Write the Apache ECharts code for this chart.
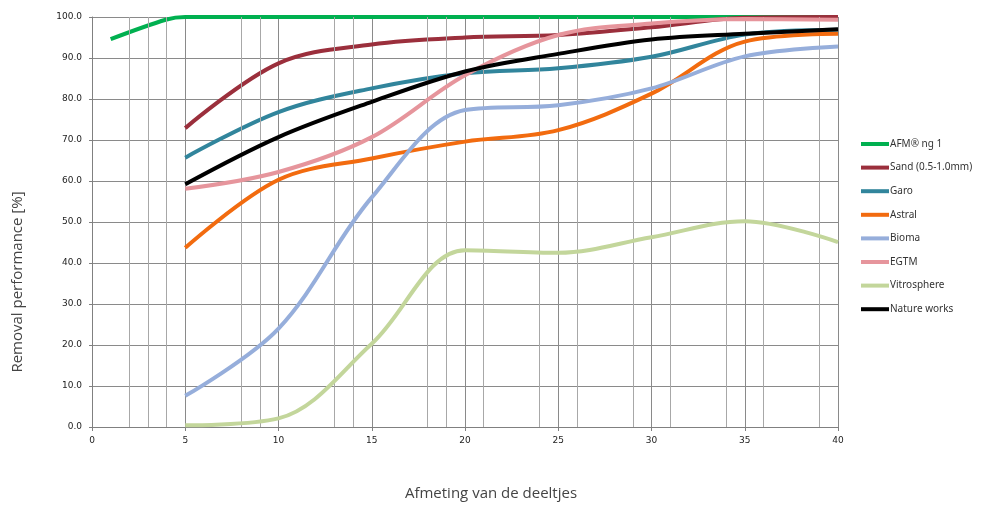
<!DOCTYPE html>
<html>
<head>
<meta charset="utf-8">
<script src="https://cdn.jsdelivr.net/npm/echarts@6/dist/echarts.min.js"></script>
<style>
html,body{margin:0;padding:0;background:#fff;}
#chart{width:984px;height:505px;}
</style>
</head>
<body>
<div id="chart"></div>
<script>
// ---- data ----
var seriesNames = ["AFM\u00ae ng 1", "Sand (0.5-1.0mm)", "Garo", "Astral", "Bioma", "EGTM", "Vitrosphere", "Nature works"];
var afmX = [1, 4, 5, 10, 15, 20, 25, 30, 35, 40];
var afmY = [94.6, 99.4, 100, 100, 100, 100, 100, 100, 100, 100];
var sizes = [5, 10, 15, 20, 25, 30, 35, 40];
var sand = [72.9, 88.7, 93.3, 95.0, 95.6, 97.5, 99.8, 100];
var garo = [65.7, 76.8, 82.6, 86.3, 87.5, 90.3, 95.7, 96.9];
var astral = [43.7, 60.3, 65.5, 69.6, 72.4, 81.3, 94.0, 95.9];
var bioma = [7.6, 24.0, 56.0, 77.3, 78.5, 82.6, 90.4, 92.8];
var egtm = [58.1, 62.2, 70.7, 85.8, 95.6, 98.4, 99.5, 99.3];
var vitrosphere = [0.4, 2.1, 20.3, 43.1, 42.5, 46.3, 50.2, 45.1];
var natureWorks = [59.2, 70.7, 79.3, 86.7, 91.0, 94.5, 95.9, 97.0];
var extraGridX = [2, 3, 4, 8, 9, 13, 14, 18, 19, 21, 24, 26, 29, 31, 34, 36, 39];
var colors = ["#00b050", "#9b2f3c", "#31859c", "#f26b0f", "#96aedb", "#e6959c", "#c3d69b", "#000000"];
var unconstrained = ["Bioma", "Vitrosphere"];

function pairs(xs, ys) { return xs.map(function (x, i) { return [x, ys[i]]; }); }
var allY = [afmY, sand, garo, astral, bioma, egtm, vitrosphere, natureWorks];

var series = [{
  type: 'line', name: '_grid', data: [], silent: true, z: 1,
  markLine: {
    silent: true, symbol: 'none', label: { show: false },
    lineStyle: { color: '#a8a8a8', width: 1, type: 'solid' },
    animation: false,
    data: extraGridX.map(function (v) { return { xAxis: v }; })
  }
}];
allY.forEach(function (ys, i) {
  series.push({
    type: 'line', name: seriesNames[i],
    data: i === 0 ? pairs(afmX, afmY) : pairs(sizes, ys),
    smooth: 0.35, symbol: 'none', z: 2 + i,
    smoothConstraint: unconstrained.indexOf(seriesNames[i]) < 0,
    lineStyle: { color: colors[i], width: 4 },
    itemStyle: { color: colors[i] }
  });
});

var chart = echarts.init(document.getElementById('chart'), null, { renderer: 'canvas' });
chart.setOption({
  animation: false,
  backgroundColor: '#ffffff',
  grid: { left: 92, right: 146, top: 17, bottom: 78, containLabel: false },
  xAxis: {
    type: 'value', min: 0, max: 40, interval: 5,
    axisLine: { show: true, onZero: false, lineStyle: { color: '#808080', width: 1 } },
    axisTick: { show: true, length: 4, lineStyle: { color: '#808080' } },
    axisLabel: { color: '#222', fontFamily: 'DejaVu Sans', fontSize: 9, margin: 9 },
    splitLine: { show: true, lineStyle: { color: '#8a8a8a', width: 1 } }
  },
  yAxis: {
    type: 'value', min: 0, max: 100, interval: 10,
    axisLine: { show: true, lineStyle: { color: '#808080', width: 1 } },
    axisTick: { show: true, length: 3, lineStyle: { color: '#808080' } },
    axisLabel: { color: '#222', fontFamily: 'DejaVu Sans', fontSize: 9, margin: 10,
      formatter: function (v) { return v.toFixed(1); } },
    splitLine: { show: true, lineStyle: { color: '#8a8a8a', width: 1 } }
  },
  legend: {
    data: seriesNames,
    orient: 'vertical', left: 856, top: 132,
    icon: 'rect', itemWidth: 28, itemHeight: 4, itemGap: 9.6,
    textStyle: { color: '#333', fontFamily: 'Noto Sans', fontSize: 10, lineHeight: 14, padding: [0, 0, 0, -4] }
  },
  graphic: [
    { type: 'text', x: 18, y: 282, rotation: Math.PI / 2,
      style: { text: 'Removal performance [%]', fill: '#444', font: '15px "Open Sans"', textAlign: 'center', textVerticalAlign: 'middle' } },
    { type: 'text', x: 491, y: 494,
      style: { text: 'Afmeting van de deeltjes', fill: '#444', font: '15px "Open Sans"', textAlign: 'center', textVerticalAlign: 'middle' } }
  ],
  series: series
});
</script>
</body>
</html>
